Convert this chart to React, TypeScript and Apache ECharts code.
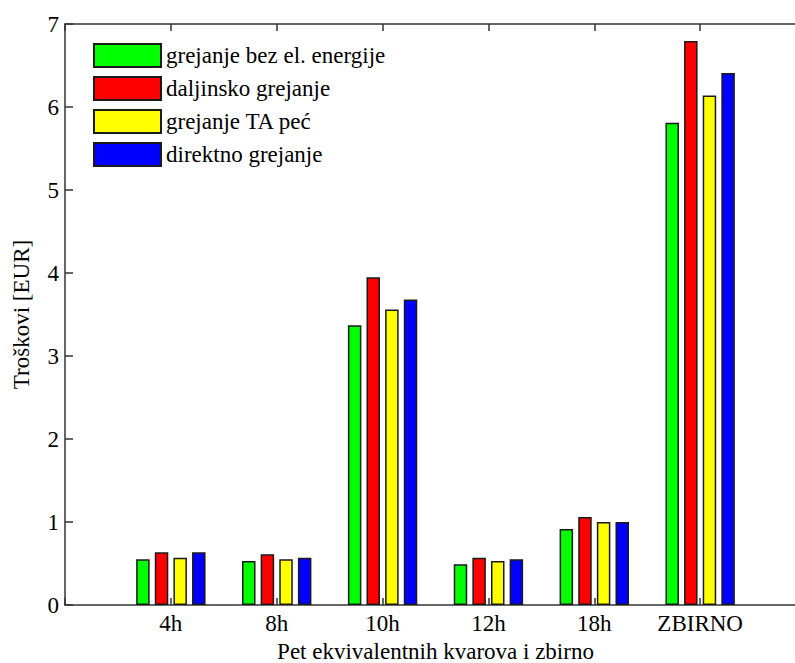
import React, { useEffect, useRef } from "react";
import * as echarts from "echarts";

const categories = ["", "4h", "8h", "10h", "12h", "18h", "ZBIRNO", ""];
const seriesNames = [
  "grejanje bez el. energije",
  "daljinsko grejanje",
  "grejanje TA peć",
  "direktno grejanje",
];
const greenValues = [0.55, 0.53, 3.37, 0.49, 0.915, 5.81];
const redValues = [0.635, 0.61, 3.95, 0.57, 1.06, 6.795];
const yellowValues = [0.57, 0.55, 3.56, 0.53, 1.0, 6.14];
const blueValues = [0.635, 0.57, 3.68, 0.55, 1.0, 6.41];
const seriesColors = ["#00ff00", "#ff0000", "#ffff00", "#0000ff"];
const yTicks = [0, 1, 2, 3, 4, 5, 6, 7];

const FONT = "'Liberation Serif', 'Times New Roman', serif";

export default function App() {
  const ref = useRef<HTMLDivElement>(null);
  useEffect(() => {
    if (!ref.current) return;
    const chart = echarts.init(ref.current, undefined, { renderer: "svg" });
    const allValues = [greenValues, redValues, yellowValues, blueValues];
    const axisLineStyle = { color: "#333", width: 1.5 };
    chart.setOption({
      animation: false,
      backgroundColor: "#fff",
      textStyle: { fontFamily: FONT },
      grid: {
        left: 65,
        top: 24,
        width: 741,
        height: 581,
        containLabel: false,
        outerBoundsMode: "none",
      },
      legend: {
        left: 93,
        top: 43,
        orient: "vertical",
        padding: 0,
        icon: "rect",
        itemWidth: 67,
        itemHeight: 23,
        itemGap: 8,
        data: seriesNames,
        textStyle: { fontFamily: FONT, fontSize: 23, color: "#000" },
      },
      xAxis: [
        {
          type: "category",
          data: categories,
          boundaryGap: false,
          name: "Pet ekvivalentnih kvarova i zbirno",
          nameLocation: "middle",
          nameGap: 35,
          nameTextStyle: { fontFamily: FONT, fontSize: 23, color: "#000" },
          axisLine: { lineStyle: axisLineStyle },
          axisTick: { inside: true, length: 7, interval: 0, lineStyle: axisLineStyle },
          axisLabel: { fontFamily: FONT, fontSize: 23, color: "#000", margin: 7, interval: 0 },
          splitLine: { show: false },
        },
        {
          type: "category",
          data: categories,
          boundaryGap: false,
          position: "top",
          axisLine: { lineStyle: axisLineStyle },
          axisTick: { inside: true, length: 7, interval: 0, lineStyle: axisLineStyle },
          axisLabel: { show: false },
          splitLine: { show: false },
        },
      ],
      yAxis: {
        type: "value",
        min: yTicks[0],
        max: yTicks[yTicks.length - 1],
        interval: 1,
        name: "Troškovi [EUR]",
        nameLocation: "middle",
        nameGap: 32,
        nameTextStyle: { fontFamily: FONT, fontSize: 23, color: "#000" },
        axisLine: { show: true, lineStyle: axisLineStyle },
        axisTick: { show: true, inside: true, length: 8, lineStyle: axisLineStyle },
        axisLabel: { fontFamily: FONT, fontSize: 23, color: "#000", margin: 6 },
        splitLine: { show: false },
      },
      series: seriesNames.map((name, i) => ({
        name,
        type: "bar",
        xAxisIndex: 0,
        barWidth: 13.5,
        barGap: "38%",
        data: ["-", ...allValues[i], "-"],
        itemStyle: {
          color: seriesColors[i],
          borderColor: "#1a1a1a",
          borderWidth: 1.5,
        },
      })),
    });
    return () => chart.dispose();
  }, []);
  return (
    <div
      ref={ref}
      style={{ position: "fixed", left: 0, top: 0, width: 795, height: 663, background: "#fff" }}
    />
  );
}
